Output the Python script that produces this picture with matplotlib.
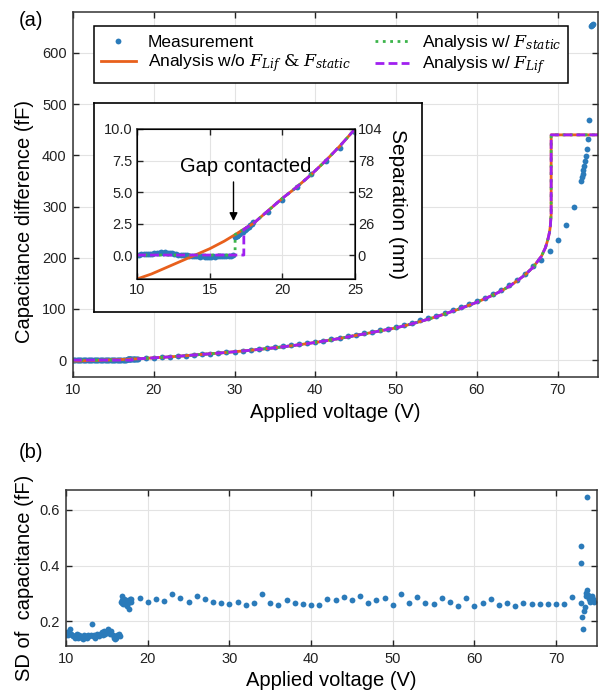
import matplotlib
matplotlib.use("Agg")
import matplotlib.pyplot as plt

plt.rcParams['font.family'] = ['Liberation Sans', 'DejaVu Sans']
plt.rcParams['mathtext.fontset'] = 'dejavuserif'

# --- measured capacitance difference (fF) vs applied voltage (V)
v_low = [10.0, 10.15, 10.3, 10.45, 10.6, 10.75, 10.9, 11.05, 11.2, 11.35,
         11.5, 11.65, 11.8, 11.95, 12.1, 12.25, 12.4, 12.55, 12.7, 12.85,
         13.0, 13.15, 13.3, 13.45, 13.6, 13.75, 13.9, 14.05, 14.2, 14.35,
         14.5, 14.65, 14.8, 14.95, 15.1, 15.25, 15.4, 15.55, 15.7, 15.85,
         16.0, 16.15, 16.3, 16.45, 16.6]
c_low = [0.02, 0.03, 0.05, 0.05, 0.06, 0.05, 0.08, 0.1, 0.14, 0.18,
         0.2, 0.22, 0.2, 0.21, 0.19, 0.2, 0.15, 0.1, 0.05, 0.03,
         0.0, -0.02, 0.0, -0.03, -0.05, -0.04, -0.06, -0.08, -0.1, -0.12,
         -0.11, -0.13, -0.12, -0.14, -0.12, -0.1, -0.12, -0.11, -0.09, -0.1,
         -0.08, -0.07, -0.05, -0.04, -0.03]
v_mid = [16.75, 16.8, 16.85, 16.9, 16.95, 17.0, 17.05, 17.1, 17.2, 17.3,
         17.4, 17.5, 17.6, 17.7, 17.8, 17.9, 18.0]
c_mid = [1.45, 1.5, 1.55, 1.5, 1.6, 1.65, 1.7, 1.75, 1.8, 1.85,
         1.95, 2.05, 2.15, 2.25, 2.35, 2.45, 2.6]
v_int = list(range(19, 73))
c_int = [3.4, 4.4, 5.4, 6.4, 7.5, 8.5, 9.8, 11.0, 12.3, 13.6,
         15.0, 16.5, 18.0, 19.5, 21.2, 22.9, 24.7, 26.6, 28.6, 30.8,
         33.1, 35.5, 38.0, 40.7, 43.5, 46.5, 49.5, 52.5, 55.5, 58.5,
         61.5, 65.0, 69.0, 73.0, 77.5, 82.0, 87.0, 92.0, 97.5, 103.0,
         109.0, 115.0, 122.0, 129.0, 137.0, 146.0, 157.0, 169.0, 183.0, 195.0,
         213.0, 235.0, 263.0, 299.0]
v_top = [72.9, 73.0, 73.1, 73.2, 73.3, 73.4, 73.5, 73.6, 73.7, 73.9,
         74.1, 74.2, 74.3, 74.4]
c_top = [349, 357, 363, 371, 379, 388, 398, 413, 431, 469,
         653, 655, 655, 656]

# --- analysis curve (w/o F_Lif & F_static)
v_curve = [10, 11, 12, 13, 14, 15, 16, 16.75, 17, 17.35, 18, 19, 20, 21, 22,
           23, 24, 25, 26, 27, 28, 29, 30, 31, 32, 33, 34, 35, 36, 37, 38,
           39, 40, 41, 42, 43, 44, 45, 46, 47, 48, 49, 50, 51, 52, 53, 54,
           55, 56, 57, 58, 59, 60, 61, 62, 63, 64, 65, 66, 67, 68, 68.5,
           68.8, 69.0, 69.1, 69.2, 69.2, 75]
c_curve = [-1.9, -1.5, -1.0, -0.5, 0.0, 0.5, 1.1, 1.62, 1.8, 2.05, 2.5, 3.5,
           4.5, 5.4, 6.4, 7.5, 8.7, 10.0, 11.2, 12.4, 13.6, 15.0, 16.4, 17.8,
           19.3, 20.9, 22.5, 24.2, 26.0, 27.9, 30.0, 32.2, 34.5, 37.0, 39.6,
           42.3, 45.2, 48.2, 51.0, 54.0, 57.0, 60.0, 63.0, 67.0, 71.0, 75.5,
           80.0, 85.0, 90.0, 95.5, 101.0, 107.0, 113.0, 120.0, 127.0, 135.0,
           144.0, 155.0, 167.0, 182.0, 203.0, 220.0, 236.0, 250.0, 262.0,
           285.0, 440.0, 440.0]
v_jump_static = 16.75
v_jump_lif = 17.35

# --- standard deviation of capacitance (fF)
sd_low = [0.15, 0.16, 0.15, 0.17, 0.155, 0.15, 0.145, 0.14, 0.15, 0.155,
          0.14, 0.15, 0.145, 0.14, 0.135, 0.15, 0.145, 0.14, 0.15, 0.145,
          0.15, 0.19, 0.145, 0.15, 0.14, 0.155, 0.15, 0.145, 0.155, 0.16,
          0.15, 0.165, 0.155, 0.16, 0.17, 0.16, 0.155, 0.165, 0.15, 0.14,
          0.135, 0.14, 0.15, 0.155, 0.145]
sd_mid = [0.27, 0.265, 0.29, 0.275, 0.26, 0.27, 0.28, 0.265, 0.26, 0.275,
          0.27, 0.255, 0.265, 0.245, 0.28, 0.27, 0.28]
sd_int = [0.282, 0.27, 0.278, 0.273, 0.297, 0.282, 0.267, 0.291, 0.278, 0.27,
          0.264, 0.261, 0.27, 0.258, 0.266, 0.296, 0.266, 0.258, 0.276, 0.266,
          0.261, 0.258, 0.258, 0.279, 0.276, 0.285, 0.276, 0.291, 0.264, 0.276,
          0.282, 0.258, 0.296, 0.266, 0.285, 0.266, 0.261, 0.282, 0.27, 0.254,
          0.282, 0.254, 0.266, 0.278, 0.258, 0.266, 0.254, 0.266, 0.261, 0.261,
          0.261, 0.261, 0.261, 0.285]
sd_v_top = [73.0, 73.05, 73.1, 73.2, 73.3, 73.4, 73.5, 73.6, 73.7, 73.75,
            73.8, 73.9, 74.0, 74.1, 74.2, 74.3, 74.4, 74.5, 74.6]
sd_top = [0.47, 0.41, 0.265, 0.215, 0.172, 0.237, 0.25, 0.30, 0.29, 0.645,
          0.31, 0.295, 0.28, 0.27, 0.285, 0.275, 0.29, 0.28, 0.27]

blue = '#2b7bba'
orange = '#e8601c'
green = '#3cb44b'
purple = '#a020f0'

v_meas = v_low + v_mid + v_int + v_top
c_meas = c_low + c_mid + c_int + c_top

v_static = [10, v_jump_static] + [v for v in v_curve if v >= v_jump_static]
c_static = [0, 0] + [c for v, c in zip(v_curve, c_curve) if v >= v_jump_static]
v_lif = [10, v_jump_lif] + [v for v in v_curve if v >= v_jump_lif]
c_lif = [0, 0] + [c for v, c in zip(v_curve, c_curve) if v >= v_jump_lif]


def style(ax, size=10.5):
    ax.grid(True, color='#e3e3e3', lw=0.8)
    ax.set_axisbelow(True)
    ax.tick_params(direction='in', top=True, right=True, length=4,
                   width=1, labelsize=size, colors='#222222', pad=4.5)
    for s in ax.spines.values():
        s.set_linewidth(1.1)
        s.set_color('#333333')


def draw_lines(ax, ms):
    ax.plot(v_meas, c_meas, 'o', color=blue, ms=ms, mec='none',
            label='Measurement')
    ax.plot(v_curve, c_curve, '-', color=orange, lw=2,
            label=r'Analysis w/o $F_{Lif}$ $\mathrm{&}$ $F_{static}$')
    ax.plot(v_static, c_static, ':', color=green, lw=2,
            label=r'Analysis w/ $F_{static}$')
    ax.plot(v_lif, c_lif, color=purple, lw=2, ls=(0, (3.2, 1.5)),
            label=r'Analysis w/ $F_{Lif}$')


fig = plt.figure(figsize=(6, 7), dpi=100)

# (a) main panel
ax = fig.add_axes([73/600, 1-377/700, 525/600, 365/700])
draw_lines(ax, 4.2)
ax.set_xlim(10, 75)
ax.set_ylim(-33, 680)
ax.set_xticks(range(10, 80, 10))
ax.set_yticks(range(0, 700, 100))
style(ax)
ax.set_xlabel('Applied voltage (V)', fontsize=14.5)
ax.set_ylabel('Capacitance difference (fF)', fontsize=14.5)
ax.xaxis.set_label_coords(0.5, -0.071)
ax.yaxis.set_label_coords(-0.074, 0.427)
leg = ax.legend(ncol=2, loc='upper left', mode='expand',
                bbox_to_anchor=(0.04, 0.812, 0.903, 0.15),
                borderaxespad=0, fontsize=12.5, fancybox=False,
                edgecolor='black', framealpha=1, handlelength=2.0,
                columnspacing=0.5, handletextpad=0.7, labelspacing=0.15,
                borderpad=0.4)
leg.get_frame().set_linewidth(1.1)

# inset frame
box = fig.add_axes([94/600, 1-312/700, 328/600, 209/700])
box.set_xticks([])
box.set_yticks([])
for s in box.spines.values():
    s.set_linewidth(1.2)
    s.set_color('black')

# inset
axi = fig.add_axes([137/600, 1-279/700, 218/600, 150/700])
draw_lines(axi, 4.2)
axi.set_xlim(10, 25)
axi.set_ylim(-1.9, 10)
axi.set_xticks([10, 15, 20, 25])
axi.set_yticks([0, 2.5, 5, 7.5, 10])
axi.set_yticklabels(['0.0', '2.5', '5.0', '7.5', '10.0'])
style(axi, 10.5)
axi.tick_params(right=False, pad=3)
axi.annotate('', xy=(16.64, 2.7), xytext=(16.64, 5.8),
             arrowprops=dict(arrowstyle='-|>', color='black', lw=1,
                             mutation_scale=12, shrinkA=0, shrinkB=0))
axi.text(17.46, 6.3, 'Gap contacted', fontsize=14.5, ha='center', va='bottom')
axr = axi.twinx()
axr.set_ylim(-19.76, 104)
axr.set_yticks([0, 26, 52, 78, 104])
axr.tick_params(direction='in', length=4, width=1, labelsize=10.5,
                colors='#222222', pad=2)
axr.set_ylabel('Separation (nm)', fontsize=15, rotation=270, labelpad=18)

# (b) standard deviation panel
ax2 = fig.add_axes([66/600, 1-646/700, 531/600, 156/700])
ax2.plot(v_low + v_mid + v_int + sd_v_top, sd_low + sd_mid + sd_int + sd_top,
         'o', color=blue, ms=4.2, mec='none')
ax2.set_xlim(10, 75)
ax2.set_ylim(0.11, 0.672)
ax2.set_xticks(range(10, 80, 10))
ax2.set_yticks([0.2, 0.4, 0.6])
style(ax2)
ax2.set_xlabel('Applied voltage (V)', fontsize=14.5)
ax2.set_ylabel('SD of  capacitance (fF)', fontsize=14.5)
ax2.xaxis.set_label_coords(0.5, -0.16)
ax2.yaxis.set_label_coords(-0.060, 0.436)

fig.text(19/600, 1-20/700, '(a)', fontsize=14.5, va='center')
fig.text(19/600, 1-452/700, '(b)', fontsize=14.5, va='center')

fig.savefig('out.png', dpi=100)
